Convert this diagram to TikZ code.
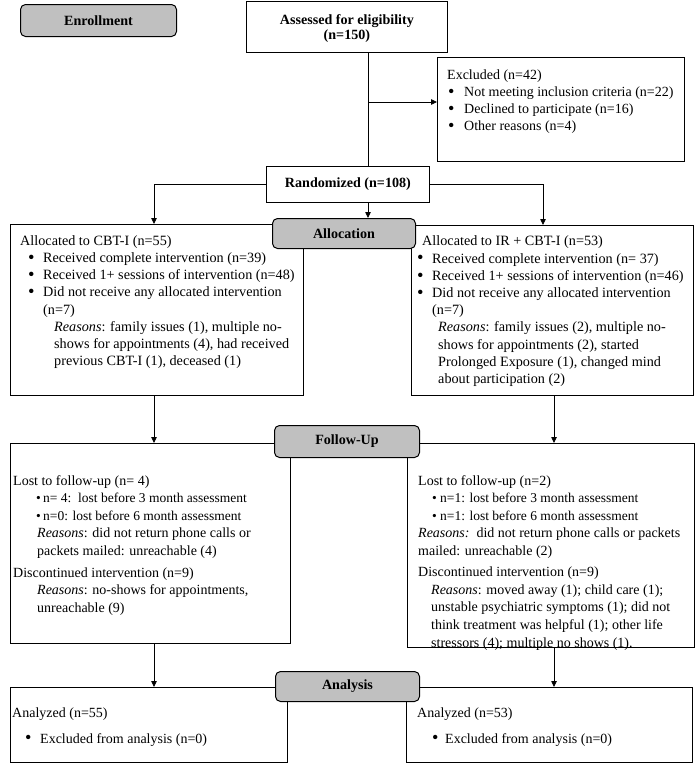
\documentclass[tikz,border=0pt]{standalone}
\usepackage{fontspec}
\setmainfont{Liberation Serif}
\usetikzlibrary{arrows.meta,calc}
\definecolor{lblgray}{RGB}{192,192,192}
\newcommand{\bl}[2]{\hspace*{#1pt}\makebox[#2pt][l]{\textbullet}}
\newcommand{\blb}[2]{\hspace*{#1pt}\makebox[#2pt][l]{\raisebox{-0.12ex}{\scalebox{1.3}{\textbullet}}}}
\newcommand{\sm}{\fontsize{13.5}{17}\selectfont}
\begin{document}
\begin{tikzpicture}[x=1pt,y=-1pt,
  box/.style={draw, line width=0.8pt, inner sep=0, anchor=north west},
  lbl/.style={draw, line width=1pt, fill=lblgray, rounded corners=5pt, inner sep=0, anchor=north west, font=\fontsize{14.1}{17}\selectfont\bfseries},
  txt/.style={inner sep=0, anchor=north west, align=left, font=\fontsize{14}{17.2}\selectfont},
  arr/.style={line width=0.8pt, -{Triangle[length=6pt,width=5.5pt]}},
  ln/.style={line width=0.8pt}]
\useasboundingbox (0,0) rectangle (697,763);

% boxes
\node[box, minimum width=201pt, minimum height=51.5pt, align=center, font=\fontsize{14.1}{15.5}\selectfont\bfseries] (assess) at (246,0.5) {\rule{0pt}{14pt}Assessed for eligibility\\(n=150)};
\node[box, minimum width=247pt, minimum height=104pt] (excl) at (437,57) {};
\node[box, minimum width=163pt, minimum height=36pt, font=\fontsize{14.1}{17}\selectfont\bfseries] (rand) at (266,166) {Randomized (n=108)};
\node[box, minimum width=293pt, minimum height=171pt] (allocL) at (10,224) {};
\node[box, minimum width=282pt, minimum height=170pt] (allocR) at (411,225) {};
\node[box, minimum width=280pt, minimum height=200pt] (fuL) at (10,443) {};
\node[box, minimum width=287pt, minimum height=204pt] (fuR) at (407,443) {};
\node[box, minimum width=277pt, minimum height=75pt] (anL) at (10,687) {};
\node[box, minimum width=286pt, minimum height=75pt] (anR) at (406,687) {};

% gray stage labels
\node[lbl, minimum width=156pt, minimum height=32pt] (enroll) at (20,4) {Enrollment};
\node[lbl, minimum width=143pt, minimum height=30pt] (alloc) at (272,218) {Allocation};
\node[lbl, minimum width=145pt, minimum height=32pt] (fu) at (274,425) {Follow-Up};
\node[lbl, minimum width=144pt, minimum height=30pt] (an) at (275,671) {Analysis};

% connector columns
\coordinate (vx) at (368,0);
\coordinate (br) at (368,102);
\coordinate (lx) at (154,0);
\coordinate (rx1) at (543,0);
\coordinate (rx2) at (554,0);

\draw[ln] (assess.south -| vx) -- (rand.north -| vx);
\draw[arr] (br) -- (excl.west |- br);
\draw[arr] (rand.south -| vx) -- (alloc.north -| vx);
\draw[arr] (rand.west) -| (allocL.north -| lx);
\draw[arr] (rand.east) -| (allocR.north -| rx1);
\draw[arr] (allocL.south -| lx) -- (fuL.north -| lx);
\draw[arr] (allocR.south -| rx2) -- (fuR.north -| rx2);
\draw[arr] (fuL.south -| lx) -- (anL.north -| lx);
\draw[arr] (fuR.south -| rx2) -- (anR.north -| rx2);

% texts
\node[txt, font=\fontsize{14}{17}\selectfont] (tExcl) at (447,67.6) {\strut Excluded (n=42)\\
\blb{1}{16}Not meeting inclusion criteria (n=22)\\
\blb{1}{16}Declined to participate (n=16)\\
\blb{1}{16}Other reasons (n=4)};

\node[txt, font=\fontsize{14.2}{17.2}\selectfont] (tAL) at (20,233) {\strut Allocated to CBT-I (n=55)\\
\blb{8}{15}Received complete intervention (n=39)\\
\blb{8}{15}Received 1+ sessions of intervention (n=48)\\
\blb{8}{15}Did not receive any allocated intervention\\
\hspace*{23pt}(n=7)\\
\hspace*{34pt}\textit{Reasons}: family issues (1), multiple no-\\
\hspace*{34pt}shows for appointments (4), had received\\
\hspace*{34pt}previous CBT-I (1), deceased (1)};

\node[txt, font=\fontsize{14.2}{17.2}\selectfont] (tAR) at (417,233.6) {\hspace*{5pt}\strut Allocated to IR + CBT-I (n=53)\\
\blb{0}{15}Received complete intervention (n= 37)\\
\blb{0}{15}Received 1+ sessions of intervention (n=46)\\
\blb{0}{15}Did not receive any allocated intervention\\
\hspace*{15pt}(n=7)\\
\hspace*{21pt}\textit{Reasons}: family issues (2), multiple no-\\
\hspace*{21pt}shows for appointments (2), started\\
\hspace*{21pt}Prolonged Exposure (1), changed mind\\
\hspace*{21pt}about participation (2)};

\node[txt, font=\fontsize{14}{17.5}\selectfont] (tFL) at (13,472.6) {\strut Lost to follow-up (n=\ 4)\\
{\sm\bl{23}{7}n=\ 4:\ \ lost before 3 month assessment}\\
{\sm\bl{23}{7}n=0: lost before 6 month assessment}\\
\hspace*{24pt}\textit{Reasons}: did not return phone calls or\\
\hspace*{24pt}packets mailed: unreachable (4)\\[4.5pt]
Discontinued intervention (n=9)\\
\hspace*{24pt}\textit{Reasons}: no-shows for appointments,\\
\hspace*{24pt}unreachable (9)};

\node[txt, font=\fontsize{14}{17.6}\selectfont] (tFR) at (418,472.6) {\strut Lost to follow-up (n=2)\\
{\sm\bl{14}{8}n=1: lost before 3 month assessment}\\
{\sm\bl{14}{8}n=1: lost before 6 month assessment}\\
\textit{Reasons:}\ \ did not return phone calls or packets\\
mailed: unreachable (2)\\[3.5pt]
Discontinued intervention (n=9)\\
\hspace*{13pt}\textit{Reasons}: moved away (1); child care (1);\\
\hspace*{13pt}unstable psychiatric symptoms (1); did not\\
\hspace*{13pt}think treatment was helpful (1); other life\\
\hspace*{13pt}stressors (4); multiple no shows (1).};

\node[txt] (tAnL) at (12,705.6) {\strut Analyzed (n=55)\\[8pt]
\blb{13}{15}Excluded from analysis (n=0)};
\node[txt] (tAnR) at (417,705.6) {\strut Analyzed (n=53)\\[8pt]
\blb{15}{13}Excluded from analysis (n=0)};
\end{tikzpicture}
\end{document}
